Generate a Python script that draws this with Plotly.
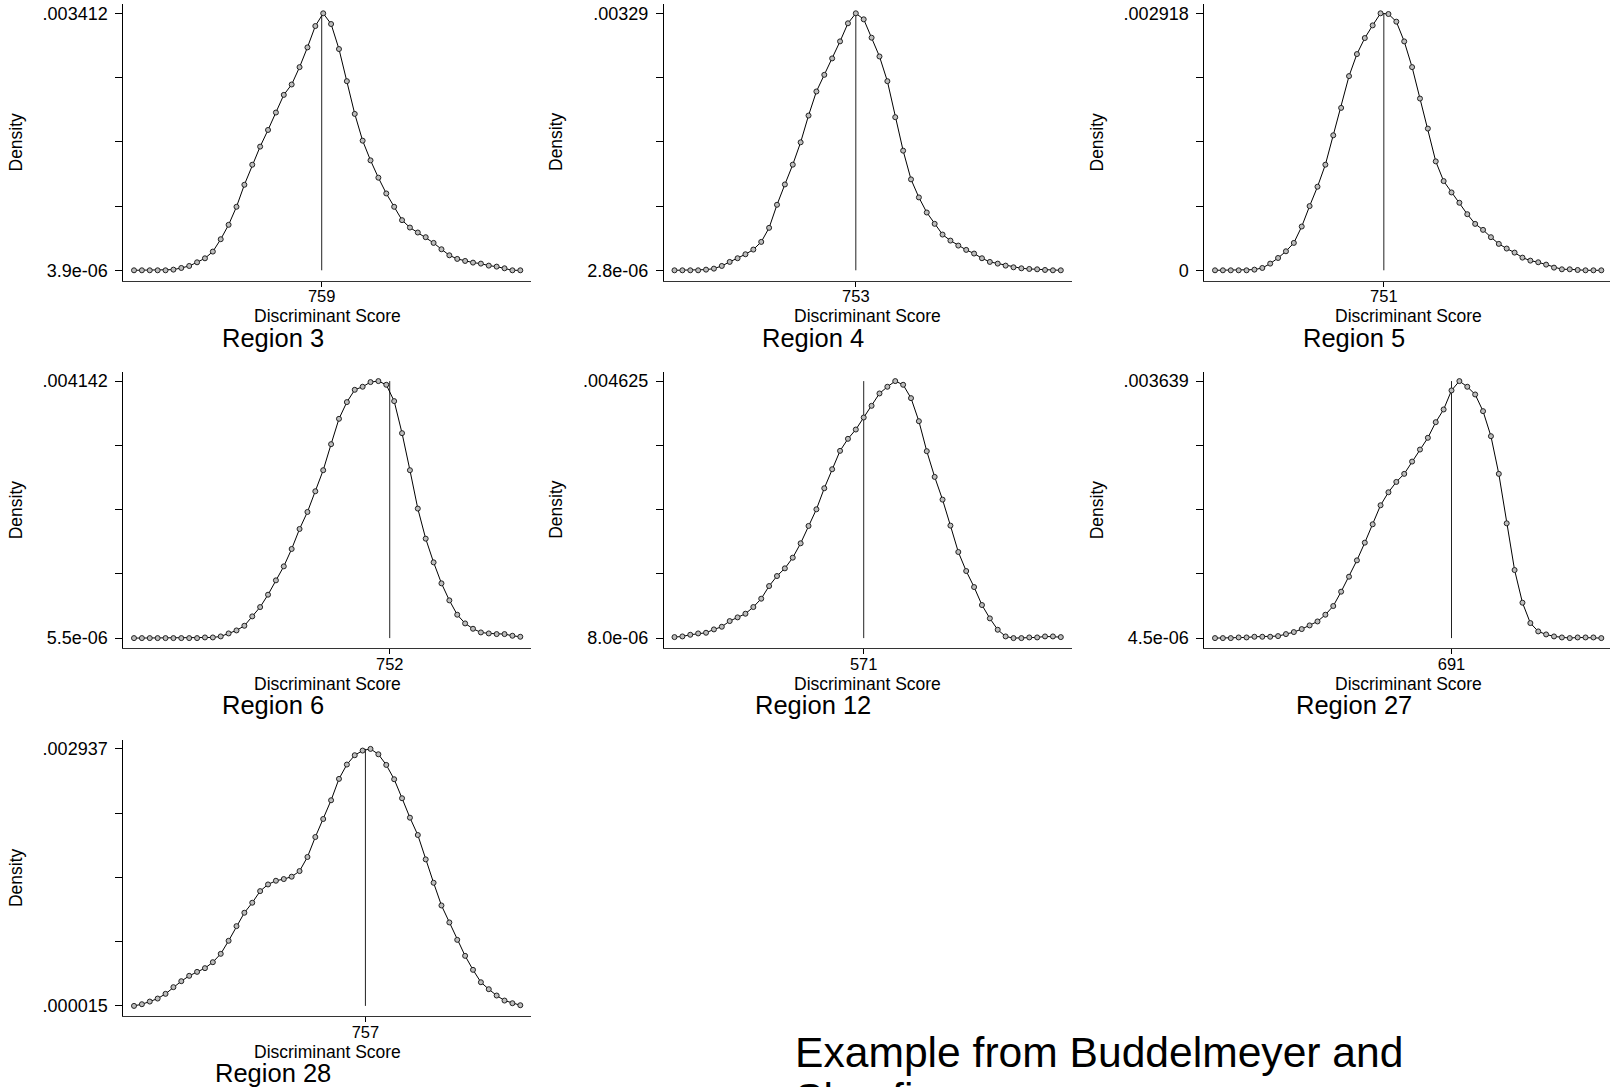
import plotly.graph_objects as go

W, H = 1610, 1087
FONT = "Liberation Sans, Arial, Helvetica, sans-serif"

regions = ["Region 3", "Region 4", "Region 5", "Region 6", "Region 12", "Region 27", "Region 28"]
cutoffs = [759, 753, 751, 752, 571, 691, 757]
ytick_low = ["3.9e-06", "2.8e-06", "0", "5.5e-06", "8.0e-06", "4.5e-06", ".000015"]
ytick_high = [".003412", ".00329", ".002918", ".004142", ".004625", ".003639", ".002937"]
y_min = [0.0000039, 0.0000028, 0.0, 0.0000055, 0.0000080, 0.0000045, 0.000015]
y_max = [0.003412, 0.00329, 0.002918, 0.004142, 0.004625, 0.003639, 0.002937]

score_r3 = [259, 280, 301, 322, 343, 364, 385, 406, 427, 448,
            469, 490, 511, 532, 553, 574, 595, 616, 637, 658,
            679, 700, 721, 742, 763, 784, 805, 826, 847, 868,
            889, 910, 931, 952, 973, 994, 1015, 1036, 1057, 1078,
            1099, 1120, 1141, 1162, 1183, 1204, 1225, 1246, 1267, 1288]
density_r3 = [0.0000039, 0.0000039, 0.0000039, 0.0000039, 0.0000039, 0.0000128, 0.0000349, 0.0000615, 0.000110, 0.000163,
              0.000252, 0.000416, 0.000607, 0.000846, 0.001138, 0.001404, 0.001644, 0.001865, 0.002096, 0.002330,
              0.002468, 0.002698, 0.002960, 0.003243, 0.003412, 0.003270, 0.002938, 0.002512, 0.002078, 0.001723,
              0.001462, 0.001232, 0.001023, 0.000846, 0.000669, 0.000571, 0.000505, 0.000443, 0.000367, 0.000283,
              0.000203, 0.000155, 0.000128, 0.000106, 0.0000925, 0.0000660, 0.0000527, 0.0000305, 0.0000039, 0.0000039]

score_r4 = [247, 269, 291, 313, 335, 357, 379, 401, 423, 445,
            467, 489, 511, 533, 555, 577, 599, 621, 643, 665,
            687, 709, 731, 753, 775, 797, 819, 841, 863, 885,
            907, 929, 951, 973, 995, 1017, 1039, 1061, 1083, 1105,
            1127, 1149, 1171, 1193, 1215, 1237, 1259, 1281, 1303, 1325]
density_r4 = [0.0000028, 0.0000028, 0.0000028, 0.0000028, 0.0000113, 0.0000242, 0.0000584, 0.000110, 0.000157, 0.000208,
              0.000268, 0.000366, 0.000546, 0.000841, 0.001101, 0.001354, 0.001640, 0.001982, 0.002290, 0.002503,
              0.002713, 0.002931, 0.003162, 0.003290, 0.003213, 0.002978, 0.002738, 0.002422, 0.001961, 0.001533,
              0.001166, 0.000935, 0.000742, 0.000597, 0.000460, 0.000383, 0.000319, 0.000264, 0.000217, 0.000157,
              0.000110, 0.0000883, 0.0000627, 0.0000413, 0.0000284, 0.0000199, 0.0000156, 0.0000071, 0.0000028, 0.0000028]

score_r5 = [237, 261, 285, 309, 333, 357, 381, 405, 429, 453,
            477, 501, 525, 549, 573, 597, 621, 645, 669, 693,
            717, 741, 765, 789, 813, 837, 861, 885, 909, 933,
            957, 981, 1005, 1029, 1053, 1077, 1101, 1125, 1149, 1173,
            1197, 1221, 1245, 1269, 1293, 1317, 1341, 1365, 1389, 1413]
density_r5 = [0.0, 0.0, 0.0, 0.0, 0.0, 0.0000076, 0.0000266, 0.0000759, 0.000140, 0.000216,
              0.000311, 0.000497, 0.000729, 0.000949, 0.001199, 0.001533, 0.001844, 0.002205, 0.002455, 0.002637,
              0.002781, 0.002918, 0.002910, 0.002823, 0.002599, 0.002307, 0.001950, 0.001609, 0.001237, 0.001013,
              0.000884, 0.000767, 0.000637, 0.000527, 0.000459, 0.000376, 0.000300, 0.000247, 0.000201, 0.000144,
              0.000110, 0.0000911, 0.0000645, 0.0000304, 0.0000114, 0.0000114, 0.0000038, 0.0, 0.0, 0.0]

score_r6 = [233, 249, 265, 281, 297, 313, 329, 345, 361, 377,
            393, 409, 425, 441, 457, 473, 489, 505, 521, 537,
            553, 569, 585, 601, 617, 633, 649, 665, 681, 697,
            713, 729, 745, 761, 777, 793, 809, 825, 841, 857,
            873, 889, 905, 921, 937, 953, 969, 985, 1001, 1017]
density_r6 = [0.0000055, 0.0000055, 0.0000055, 0.0000055, 0.0000055, 0.0000055, 0.0000055, 0.0000055, 0.0000055, 0.0000162,
              0.0000162, 0.0000324, 0.0000807, 0.000129, 0.000204, 0.000355, 0.000505, 0.000704, 0.000935, 0.001160,
              0.001440, 0.001762, 0.002036, 0.002369, 0.002708, 0.003127, 0.003535, 0.003804, 0.004002, 0.004051,
              0.004126, 0.004142, 0.004083, 0.003820, 0.003304, 0.002708, 0.002090, 0.001606, 0.001225, 0.000887,
              0.000613, 0.000382, 0.000242, 0.000156, 0.0000968, 0.0000807, 0.0000700, 0.0000700, 0.0000431, 0.0000270]

score_r12 = [283, 295, 307, 319, 331, 343, 355, 367, 379, 391,
             403, 415, 427, 439, 451, 463, 475, 487, 499, 511,
             523, 535, 547, 559, 571, 583, 595, 607, 619, 631,
             643, 655, 667, 679, 691, 703, 715, 727, 739, 751,
             763, 775, 787, 799, 811, 823, 835, 847, 859, 871]
density_r12 = [0.0000260, 0.0000380, 0.0000680, 0.0000919, 0.000104, 0.000164, 0.000212, 0.000314, 0.000380, 0.000446,
               0.000566, 0.000716, 0.000943, 0.001123, 0.001261, 0.001453, 0.001711, 0.002023, 0.002322, 0.002700,
               0.003042, 0.003372, 0.003588, 0.003755, 0.003971, 0.004181, 0.004403, 0.004523, 0.004625, 0.004559,
               0.004319, 0.003905, 0.003366, 0.002904, 0.002496, 0.002029, 0.001555, 0.001213, 0.000925, 0.000602,
               0.000362, 0.000158, 0.0000380, 0.0000080, 0.0000080, 0.0000200, 0.0000200, 0.0000380, 0.0000380, 0.0000260]

score_r27 = [151, 169, 187, 205, 223, 241, 259, 277, 295, 313,
             331, 349, 367, 385, 403, 421, 439, 457, 475, 493,
             511, 529, 547, 565, 583, 601, 619, 637, 655, 673,
             691, 709, 727, 745, 763, 781, 799, 817, 835, 853,
             871, 889, 907, 925, 943, 961, 979, 997, 1015, 1033]
density_r27 = [0.0000045, 0.0000045, 0.0000045, 0.0000139, 0.0000139, 0.0000234, 0.0000234, 0.0000234, 0.0000328, 0.0000611,
               0.0000895, 0.000132, 0.000184, 0.000240, 0.000335, 0.000458, 0.000661, 0.000873, 0.001104, 0.001354,
               0.001614, 0.001883, 0.002067, 0.002213, 0.002327, 0.002501, 0.002671, 0.002837, 0.003058, 0.003238,
               0.003507, 0.003639, 0.003559, 0.003450, 0.003214, 0.002860, 0.002327, 0.001628, 0.000967, 0.000505,
               0.000217, 0.0000989, 0.0000564, 0.0000281, 0.0000139, 0.0000045, 0.0000139, 0.0000139, 0.0000139, 0.0000045]

score_r28 = [258, 275, 292, 309, 326, 343, 360, 377, 394, 411,
             428, 445, 462, 479, 496, 513, 530, 547, 564, 581,
             598, 615, 632, 649, 666, 683, 700, 717, 734, 751,
             768, 785, 802, 819, 836, 853, 870, 887, 904, 921,
             938, 955, 972, 989, 1006, 1023, 1040, 1057, 1074, 1091]
density_r28 = [0.0000150, 0.0000340, 0.0000643, 0.0000985, 0.000152, 0.000228, 0.000296, 0.000357, 0.000402, 0.000444,
               0.000512, 0.000607, 0.000755, 0.000922, 0.001074, 0.001188, 0.001320, 0.001396, 0.001438, 0.001457,
               0.001484, 0.001548, 0.001708, 0.001935, 0.002140, 0.002353, 0.002596, 0.002759, 0.002865, 0.002918,
               0.002937, 0.002876, 0.002755, 0.002592, 0.002376, 0.002155, 0.001958, 0.001681, 0.001415, 0.001157,
               0.000964, 0.000766, 0.000584, 0.000425, 0.000284, 0.000205, 0.000133, 0.0000757, 0.0000454, 0.0000226]

scores = [score_r3, score_r4, score_r5, score_r6, score_r12, score_r27, score_r28]
densities = [density_r3, density_r4, density_r5, density_r6, density_r12, density_r27, density_r28]

footer_line1 = "Example from Buddelmeyer and"
footer_line2 = "Skoufias"

# layout geometry, in page pixels
COL_X0 = 123.3      # y axis of column 1
COL_STEP = 540.5
ROW_Y1 = 280.5      # x-axis line of row 1
ROW_STEP = 367.8
PAD_X = 10.7        # gap between axis ends and first/last evaluation point
SPAN_X = 386.3      # first to last evaluation point
TICK_TOP = 267.2    # axis line to top tick
TICK_BOT = 10.2     # axis line to bottom tick
AX_H = 276.5        # height of y axis line


def px(x):
    return min(max(x / W, 0.0), 1.0)


def py(y):
    return min(max(1 - y / H, 0.0), 1.0)


def pyu(y):
    return 1 - y / H


fig = go.Figure()
annotations = []
ytick_font = dict(family=FONT, size=18, color="black")
xtick_font = dict(family=FONT, size=16.5, color="black")

for i in range(7):
    r, c = divmod(i, 3)
    n = i + 1
    xs, ys = scores[i], densities[i]
    lo, hi = min(xs), max(xs)
    left_px = COL_X0 + c * COL_STEP
    first_px = left_px + PAD_X
    right_px = min(first_px + SPAN_X + PAD_X, W)
    ppu = SPAN_X / (hi - lo)
    xr = [lo - PAD_X / ppu, lo + (right_px - first_px) / ppu]

    bot_px = ROW_Y1 + r * ROW_STEP
    top_px = bot_px - AX_H
    ymn, ymx = y_min[i], y_max[i]
    ppy = (TICK_TOP - TICK_BOT) / (ymx - ymn)
    yr = [ymn - TICK_BOT / ppy, ymx + (AX_H - TICK_TOP) / ppy]

    xa = "x" if n == 1 else f"x{n}"
    ya = "y" if n == 1 else f"y{n}"

    fig.add_trace(go.Scatter(x=[cutoffs[i], cutoffs[i]], y=[ymn, ymx], mode="lines",
                             line=dict(color="#222222", width=1), xaxis=xa, yaxis=ya,
                             showlegend=False, hoverinfo="skip"))
    fig.add_trace(go.Scatter(x=xs, y=ys, mode="lines+markers",
                             line=dict(color="black", width=1),
                             marker=dict(symbol="circle", size=5, color="#bdbdbd",
                                         line=dict(color="#222222", width=1)),
                             xaxis=xa, yaxis=ya, showlegend=False))

    yt = [ymn + k * (ymx - ymn) / 4 for k in range(5)]
    fig.update_layout(**{
        ("xaxis" if n == 1 else f"xaxis{n}"): dict(
            domain=[px(left_px), px(right_px)], range=xr, anchor=ya,
            showline=True, linecolor="#333333", linewidth=1.2, showgrid=False, zeroline=False,
            ticks="outside", ticklen=5, tickwidth=1, tickcolor="black",
            ticklabelstandoff=-4,
            tickvals=[cutoffs[i]], ticktext=[str(cutoffs[i])], tickfont=xtick_font),
        ("yaxis" if n == 1 else f"yaxis{n}"): dict(
            domain=[py(bot_px), py(top_px)], range=yr, anchor=xa,
            showline=True, linecolor="black", linewidth=1, showgrid=False, zeroline=False,
            ticks="outside", ticklen=7, tickwidth=1, tickcolor="black",
            ticklabelstandoff=4,
            tickvals=yt, ticktext=[ytick_low[i], "", "", "", ytick_high[i]], tickfont=ytick_font),
    })

    annotations.append(dict(text="Density", x=px(15.5 + c * COL_STEP), y=py(bot_px - 138.5),
                            xref="paper", yref="paper", showarrow=False, textangle=-90,
                            xanchor="center", yanchor="middle",
                            font=dict(family=FONT, size=17.5, color="black")))
    annotations.append(dict(text="Discriminant Score", x=px(left_px + 203.8), y=py(bot_px + 35.5),
                            xref="paper", yref="paper", showarrow=False,
                            xanchor="center", yanchor="middle",
                            font=dict(family=FONT, size=17.5, color="black")))
    annotations.append(dict(text=regions[i], x=px(272.6 + c * COL_STEP), y=py(bot_px + 57.0),
                            xref="paper", yref="paper", showarrow=False,
                            xanchor="center", yanchor="middle",
                            font=dict(family=FONT, size=25.5, color="black")))

annotations.append(dict(text=footer_line1, x=px(793), y=pyu(1052), xref="paper", yref="paper",
                        showarrow=False, xanchor="left", yanchor="middle",
                        font=dict(family=FONT, size=42.6, color="black")))
annotations.append(dict(text=footer_line2, x=px(793), y=pyu(1098), xref="paper", yref="paper",
                        showarrow=False, xanchor="left", yanchor="middle",
                        font=dict(family=FONT, size=42.6, color="black")))

fig.update_layout(width=W, height=H, margin=dict(l=0, r=0, t=0, b=0),
                  paper_bgcolor="white", plot_bgcolor="white",
                  annotations=annotations, showlegend=False)

fig.write_html("out.html", config={"displayModeBar": False},
               post_script="document.body.style.margin='0px';document.body.style.overflow='hidden';")
